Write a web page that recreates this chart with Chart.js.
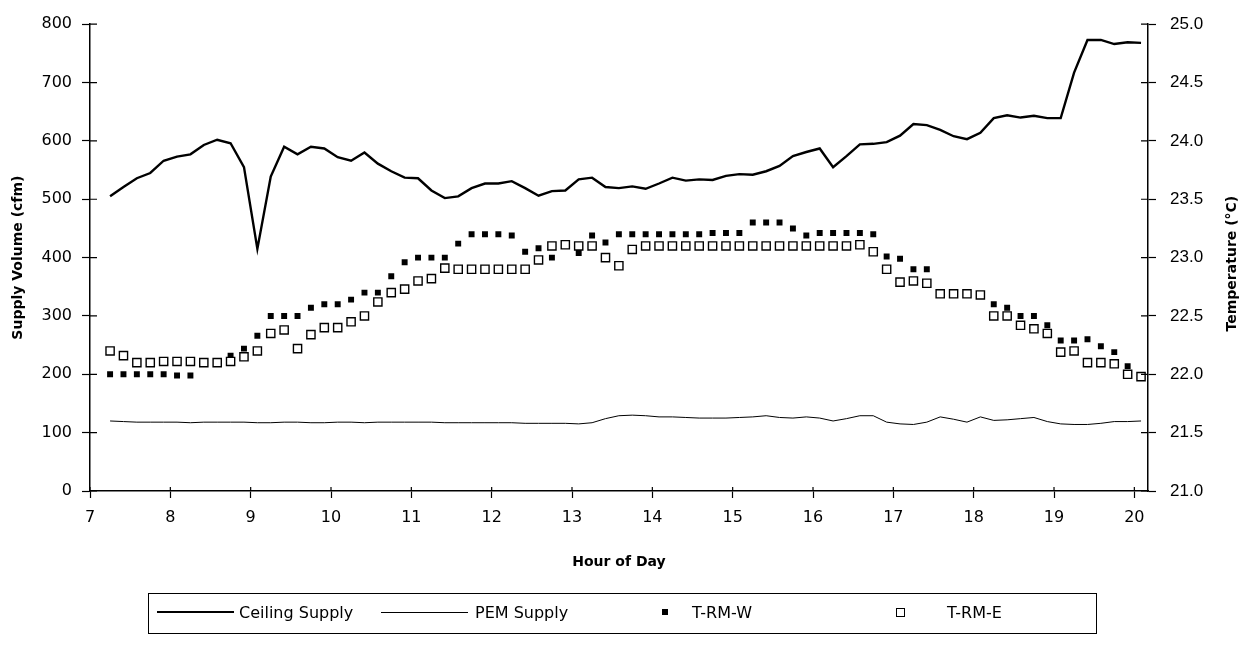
<!DOCTYPE html>
<html>
<head>
<meta charset="utf-8">
<script src="https://cdn.jsdelivr.net/npm/chart.js@4.4.1/dist/chart.umd.min.js"></script>
<style>
  body { margin: 0; background: #fff; }
  #wrap { position: relative; width: 1244px; height: 648px; }
  #legend {
    position: absolute; left: 148px; top: 593px; width: 949px; height: 41px;
    border: 1.3px solid #000; box-sizing: border-box;
    font: 16px "DejaVu Sans", sans-serif; color: #000;
  }
  #legend .txt { position: absolute; top: 9px; white-space: nowrap; }
  #legend .line { position: absolute; background: #000; }
  #legend .sq { position: absolute; box-sizing: border-box; }
</style>
</head>
<body>
<div id="wrap">
  <canvas id="chart" width="1244" height="648"></canvas>
  <div id="legend">
    <div class="line" style="left:8px; top:17px; width:77px; height:2.4px"></div>
    <div class="txt" style="left:90px">Ceiling Supply</div>
    <div class="line" style="left:232px; top:18px; width:87px; height:1px"></div>
    <div class="txt" style="left:326px">PEM Supply</div>
    <div class="sq" style="left:513px; top:15px; width:6px; height:6px; background:#000"></div>
    <div class="txt" style="left:543px">T-RM-W</div>
    <div class="sq" style="left:747px; top:14px; width:9px; height:9px; border:1.4px solid #000; background:#fff"></div>
    <div class="txt" style="left:798px">T-RM-E</div>
  </div>
</div>
<script>
// readings every 10 minutes
const times = [
  "7:15", "7:25", "7:35", "7:45", "7:55",
  "8:05", "8:15", "8:25", "8:35", "8:45", "8:55",
  "9:05", "9:15", "9:25", "9:35", "9:45", "9:55",
  "10:05", "10:15", "10:25", "10:35", "10:45", "10:55",
  "11:05", "11:15", "11:25", "11:35", "11:45", "11:55",
  "12:05", "12:15", "12:25", "12:35", "12:45", "12:55",
  "13:05", "13:15", "13:25", "13:35", "13:45", "13:55",
  "14:05", "14:15", "14:25", "14:35", "14:45", "14:55",
  "15:05", "15:15", "15:25", "15:35", "15:45", "15:55",
  "16:05", "16:15", "16:25", "16:35", "16:45", "16:55",
  "17:05", "17:15", "17:25", "17:35", "17:45", "17:55",
  "18:05", "18:15", "18:25", "18:35", "18:45", "18:55",
  "19:05", "19:15", "19:25", "19:35", "19:45", "19:55",
  "20:05"
];

// supply volume, cfm
const ceilingSupply = [
  505, 521, 536, 545, 566,
  573, 577, 593, 602, 596, 555,
  415, 539, 590, 577, 590, 587,
  572, 566, 580, 561, 548, 537,
  536, 515, 502, 505, 519, 527,
  527, 531, 519, 506, 514, 515,
  534, 537, 521, 519, 522, 518,
  527, 537, 532, 534, 533, 540,
  543, 542, 548, 557, 574, 581,
  587, 555, 574, 594, 595, 598,
  609, 629, 627, 619, 608, 603,
  614, 639, 644, 640, 643, 639,
  639, 717, 773, 773, 766, 769,
  768
];

const pemSupply = [
  120, 119, 118, 118, 118,
  118, 117, 118, 118, 118, 118,
  117, 117, 118, 118, 117, 117,
  118, 118, 117, 118, 118, 118,
  118, 118, 117, 117, 117, 117,
  117, 117, 116, 116, 116, 116,
  115, 117, 124, 129, 130, 129,
  127, 127, 126, 125, 125, 125,
  126, 127, 129, 126, 125, 127,
  125, 120, 124, 129, 129, 118,
  115, 114, 118, 127, 123, 118,
  127, 121, 122, 124, 126, 119,
  115, 114, 114, 116, 119, 119,
  120
];

// room temperatures, degC
const tRmW = [
  22.00, 22.00, 22.00, 22.00, 22.00,
  21.99, 21.99, 22.10, 22.10, 22.16, 22.22,
  22.33, 22.50, 22.50, 22.50, 22.57, 22.60,
  22.60, 22.64, 22.70, 22.70, 22.84, 22.96,
  23.00, 23.00, 23.00, 23.12, 23.20, 23.20,
  23.20, 23.19, 23.05, 23.08, 23.00, 23.11,
  23.04, 23.19, 23.13, 23.20, 23.20, 23.20,
  23.20, 23.20, 23.20, 23.20, 23.21, 23.21,
  23.21, 23.30, 23.30, 23.30, 23.25, 23.19,
  23.21, 23.21, 23.21, 23.21, 23.20, 23.01,
  22.99, 22.90, 22.90, 22.69, 22.69, 22.69,
  22.68, 22.60, 22.57, 22.50, 22.50, 22.42,
  22.29, 22.29, 22.30, 22.24, 22.19, 22.07,
  21.98
];

const tRmE = [
  22.20, 22.16, 22.10, 22.10, 22.11,
  22.11, 22.11, 22.10, 22.10, 22.11, 22.15,
  22.20, 22.35, 22.38, 22.22, 22.34, 22.40,
  22.40, 22.45, 22.50, 22.62, 22.70, 22.73,
  22.80, 22.82, 22.91, 22.90, 22.90, 22.90,
  22.90, 22.90, 22.90, 22.98, 23.10, 23.11,
  23.10, 23.10, 23.00, 22.93, 23.07, 23.10,
  23.10, 23.10, 23.10, 23.10, 23.10, 23.10,
  23.10, 23.10, 23.10, 23.10, 23.10, 23.10,
  23.10, 23.10, 23.10, 23.11, 23.05, 22.90,
  22.79, 22.80, 22.78, 22.69, 22.69, 22.69,
  22.68, 22.50, 22.50, 22.42, 22.39, 22.35,
  22.19, 22.20, 22.10, 22.10, 22.09, 22.00,
  21.98
];

const hourTicks = [7, 8, 9, 10, 11, 12, 13, 14, 15, 16, 17, 18, 19, 20];
const volumeTicks = [0, 100, 200, 300, 400, 500, 600, 700, 800];
const tempTicks = [21.0, 21.5, 22.0, 22.5, 23.0, 23.5, 24.0, 24.5, 25.0];

const hours = times.map(t => {
  const [h, m] = t.split(":");
  return Number(h) + Number(m) / 60;
});
const toPoints = vals => hours.map((h, i) => ({ x: h, y: vals[i] }));

const tickFont = { family: "DejaVu Sans", size: 16 };
const titleFont = { family: "DejaVu Sans", size: 14, weight: "bold" };

// tick marks in the original cross the axis; draw the inner halves,
// plus the right axis title which reads bottom-to-top
const crossTicks = {
  id: "crossTicks",
  afterDraw(chart) {
    const { ctx, chartArea, scales } = chart;
    ctx.save();
    ctx.strokeStyle = "#000";
    ctx.lineWidth = 1.2;
    ctx.beginPath();
    hourTicks.forEach(v => {
      const px = scales.x.getPixelForValue(v);
      ctx.moveTo(px, chartArea.bottom);
      ctx.lineTo(px, chartArea.bottom - 4);
    });
    volumeTicks.forEach(v => {
      const py = scales.y.getPixelForValue(v);
      ctx.moveTo(chartArea.left, py);
      ctx.lineTo(chartArea.left + 7, py);
    });
    tempTicks.forEach(v => {
      const py = scales.y2.getPixelForValue(v);
      ctx.moveTo(chartArea.right, py);
      ctx.lineTo(chartArea.right - 7, py);
    });
    ctx.stroke();

    ctx.translate(1232, (chartArea.top + chartArea.bottom) / 2 + 6);
    ctx.rotate(-Math.PI / 2);
    ctx.fillStyle = "#000";
    ctx.font = "bold 14px 'DejaVu Sans'";
    ctx.textAlign = "center";
    ctx.textBaseline = "middle";
    ctx.fillText("Temperature (°C)", 0, 0);
    ctx.restore();
  }
};

new Chart(document.getElementById("chart"), {
  type: "scatter",
  data: {
    datasets: [
      {
        label: "T-RM-E",
        data: toPoints(tRmE),
        yAxisID: "y2",
        order: 0,
        pointStyle: "rect",
        pointRadius: 5.8,
        pointBackgroundColor: "#fff",
        pointBorderColor: "#000",
        pointBorderWidth: 1.4
      },
      {
        label: "T-RM-W",
        data: toPoints(tRmW),
        yAxisID: "y2",
        order: 1,
        pointStyle: "rect",
        pointRadius: 4.2,
        pointBackgroundColor: "#000",
        pointBorderWidth: 0
      },
      {
        label: "PEM Supply",
        data: toPoints(pemSupply),
        yAxisID: "y",
        order: 2,
        showLine: true,
        borderColor: "#000",
        borderWidth: 1,
        pointRadius: 0
      },
      {
        label: "Ceiling Supply",
        data: toPoints(ceilingSupply),
        yAxisID: "y",
        order: 3,
        showLine: true,
        borderColor: "#000",
        borderWidth: 2.4,
        pointRadius: 0
      }
    ]
  },
  options: {
    responsive: false,
    animation: false,
    devicePixelRatio: 1,
    layout: { padding: { top: 17, bottom: 72, left: 0, right: 0 } },
    plugins: {
      legend: { display: false },
      tooltip: { enabled: false }
    },
    scales: {
      x: {
        type: "linear",
        position: "bottom",
        min: 7,
        max: 20.17,
        afterBuildTicks: s => { s.ticks = hourTicks.map(v => ({ value: v })); },
        afterFit: s => { s.height = 85; },
        ticks: { font: tickFont, color: "#000", padding: 10, maxRotation: 0 },
        grid: { drawOnChartArea: false, color: "#000", tickLength: 7, tickWidth: 1.2 },
        border: { color: "#000", width: 1.5 },
        title: {
          display: true, text: "Hour of Day", font: titleFont, color: "#000",
          padding: { top: 0, bottom: 5 }
        }
      },
      y: {
        position: "left",
        min: 0,
        max: 800,
        afterBuildTicks: s => { s.ticks = volumeTicks.map(v => ({ value: v })); },
        afterFit: s => { s.width = 90; },
        ticks: { font: tickFont, color: "#000", padding: 10 },
        grid: { drawOnChartArea: false, color: "#000", tickLength: 8, tickWidth: 1.2 },
        border: { color: "#000", width: 1.5 },
        title: {
          display: true, text: "Supply Volume (cfm)", font: titleFont, color: "#000",
          padding: { top: 10, bottom: 0 }
        }
      },
      y2: {
        position: "right",
        min: 21,
        max: 25,
        afterBuildTicks: s => { s.ticks = tempTicks.map(v => ({ value: v })); },
        afterFit: s => { s.width = 96; },
        ticks: {
          font: { family: "Liberation Sans", size: 17 },
          color: "#000",
          padding: 14,
          callback: v => v.toFixed(1)
        },
        grid: { drawOnChartArea: false, color: "#000", tickLength: 8, tickWidth: 1.2 },
        border: { color: "#000", width: 1.5 }
      }
    }
  },
  plugins: [crossTicks]
});
</script>
</body>
</html>
